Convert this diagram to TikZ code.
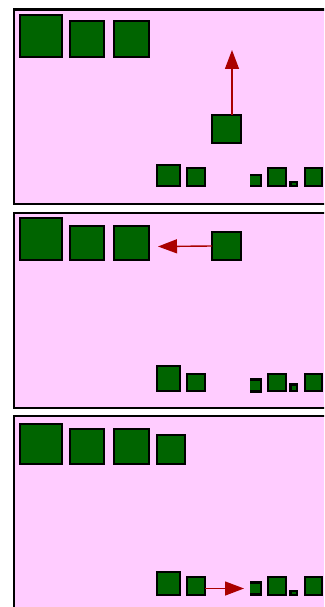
\documentclass[tikz,border=0pt]{standalone}
\usetikzlibrary{arrows.meta}
\definecolor{panelpink}{HTML}{FFCCFF}
\definecolor{blockgreen}{HTML}{006400}
\definecolor{movered}{HTML}{AA0000}
\begin{document}
\begin{tikzpicture}[x=1pt, y=-1pt,
  panel/.style={draw=black, line width=2.4pt, fill=panelpink},
  blk/.style 2 args={draw=black, line width=2.4pt, fill=blockgreen, inner sep=0pt, outer sep=0pt,
    anchor=north west, minimum width=#1pt, minimum height=#2pt},
  blkfill/.style 2 args={fill=blockgreen, inner sep=0pt, outer sep=0pt,
    anchor=north west, minimum width=#1pt, minimum height=#2pt},
  move/.style={draw=movered, line width=1.4pt, -{Triangle[length=19pt,width=14pt]}}]
  \useasboundingbox (0,0) rectangle (324,607);
  \clip (0,0) rectangle (324,607);
  % First panel: block moves up
  \draw[panel] (14,9.5) rectangle (340,204);
  \node[blk={42}{42}] (a1) at (20,15) {};
  \node[blk={34}{36}] (b1) at (70,21) {};
  \node[blk={35}{36}] (c1) at (114,21) {};
  \node[blk={29}{28}] (d1) at (212,115) {};
  \node[blk={23}{21}] (e1) at (157,165) {};
  \node[blk={18}{18}] (f1) at (187,168) {};
  \node[blkfill={11}{11}] (g1) at (250,175) {};
  \draw[line width=2.4pt] (g1.north west) -- (g1.north east) -- (g1.south east) -- (g1.south west);
  \node[blk={18}{18}] (h1) at (268,168) {};
  \node[blk={6.5}{4}] (i1) at (290.5,182) {};
  \node[blk={17}{18}] (j1) at (305,168) {};
  \coordinate (t1) at (232,50);
  \draw[move] (d1.north -| t1) -- (t1);
  % Second panel: block moves left
  \draw[panel] (14,213) rectangle (340,408);
  \node[blk={42}{42}] (a2) at (20,218) {};
  \node[blk={34}{34}] (b2) at (70,226) {};
  \node[blk={35}{34}] (c2) at (114,226) {};
  \node[blk={29}{28}] (d2) at (212,232) {};
  \node[blk={23}{25}] (e2) at (157,366) {};
  \node[blk={18}{17}] (f2) at (187,374) {};
  \node[blkfill={11}{12}] (g2) at (250,379.5) {};
  \draw[line width=2.4pt] (g2.north west) -- (g2.north east) -- (g2.south east) -- (g2.south west);
  \node[blk={18}{17}] (h2) at (268,374) {};
  \node[blk={6.5}{6.5}] (i2) at (290.5,384.5) {};
  \node[blk={17}{17}] (j2) at (305,374) {};
  \coordinate (t2) at (158,246.5);
  \draw[move] (d2.west) -- (t2);
  % Third panel: block moves right
  \draw[panel] (14,416) rectangle (340,640);
  \node[blk={42}{40}] (a3) at (20,424) {};
  \node[blk={34}{35}] (b3) at (70,429) {};
  \node[blk={35}{35}] (c3) at (114,429) {};
  \node[blk={28}{29}] (d3) at (157,435) {};
  \node[blk={23}{23}] (e3) at (157,572) {};
  \node[blk={18}{18}] (f3) at (187,577) {};
  \node[blkfill={11}{12}] (g3) at (250,582.5) {};
  \draw[line width=2.4pt] (g3.north west) -- (g3.north east) -- (g3.south east) -- (g3.south west);
  \node[blk={18}{18}] (h3) at (268,577) {};
  \node[blk={6.5}{4}] (i3) at (290.5,591) {};
  \node[blk={17}{18}] (j3) at (305,577) {};
  \coordinate (t3) at (244,588.5);
  \draw[move] (f3.east |- t3) -- (t3);
\end{tikzpicture}
\end{document}
